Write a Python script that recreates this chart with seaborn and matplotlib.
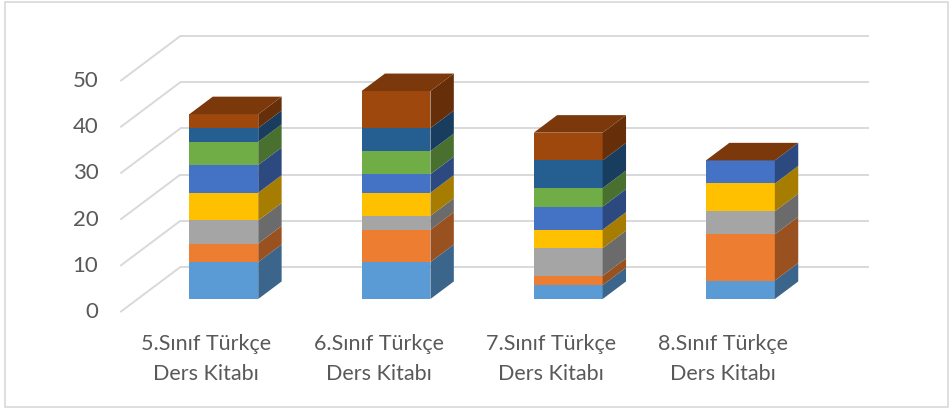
import numpy as np
import pandas as pd
import matplotlib
matplotlib.use("Agg")
import matplotlib.pyplot as plt
import seaborn as sns
from matplotlib.patches import Polygon, Rectangle

# ---------------- data ----------------
categories = ["5.Sınıf Türkçe\nDers Kitabı", "6.Sınıf Türkçe\nDers Kitabı",
              "7.Sınıf Türkçe\nDers Kitabı", "8.Sınıf Türkçe\nDers Kitabı"]
series_names = ["Seri 1", "Seri 2", "Seri 3", "Seri 4",
                "Seri 5", "Seri 6", "Seri 7", "Seri 8"]
s1 = [8, 8, 3, 4]
s2 = [4, 7, 2, 10]
s3 = [5, 3, 6, 5]
s4 = [6, 5, 4, 6]
s5 = [6, 4, 5, 5]
s6 = [5, 5, 4, 0]
s7 = [3, 5, 6, 0]
s8 = [3, 8, 6, 0]
series_values = [s1, s2, s3, s4, s5, s6, s7, s8]
y_ticks = [0, 10, 20, 30, 40, 50]
front_colors = ["#5B9BD5", "#ED7D31", "#A5A5A5", "#FFC000",
                "#4472C4", "#70AD47", "#255E91", "#9E480E"]

# ---------------- style ----------------
sns.set_theme(style="white")
plt.rcParams["font.family"] = ["Lato", "DejaVu Sans"]
TEXT = "#595959"
GRID = "#D9D9D9"

W, H = 951, 411
fig = plt.figure(figsize=(W / 100, H / 100), dpi=100)
ax = fig.add_axes([0, 0, 1, 1])

# oblique 3D projection parameters (depth d: 0 = front of floor, 1 = back wall)
DX, DY = 0.3484, 9.74
D_FRONT, D_BACK = 0.29, 0.68
BAR_W = 0.4


def proj(x, v, d):
    return x + DX * (d - D_FRONT), v + DY * (d - D_FRONT)


def shade(hexc, f):
    r, g, b = matplotlib.colors.to_rgb(hexc)
    return (r * f, g * f, b * f)


n = len(categories)
x_left, x_right = -0.5, n - 0.5

# walls: back-wall grid lines and side-wall diagonals
for v in y_ticks:
    p0 = proj(x_left, v, 1)
    p1 = proj(x_right, v, 1)
    ax.plot([p0[0], p1[0]], [p0[1], p1[1]], color=GRID, lw=1.4, zorder=1,
            solid_capstyle="butt")
    q0 = proj(x_left, v, 0)
    ax.plot([q0[0], p0[0]], [q0[1], p0[1]], color=GRID, lw=1.4, zorder=1,
            solid_capstyle="butt")
    ax.annotate(str(v), xy=q0, xytext=(-22 * 0.72, 0), textcoords="offset points",
                ha="right", va="center", fontsize=16, color=TEXT)

# front faces with seaborn (stacked)
bottoms = np.zeros(n)
for name, vals, col in zip(series_names, series_values, front_colors):
    df = pd.DataFrame({"cat": categories, "val": vals})
    sns.barplot(data=df, x="cat", y="val", order=categories, color=col,
                width=BAR_W, bottom=bottoms.copy(), linewidth=0, edgecolor="none",
                saturation=1, ax=ax, zorder=3)
    bottoms = bottoms + np.array(vals, dtype=float)

# side faces
bottoms = np.zeros(n)
for vals, col in zip(series_values, front_colors):
    for i, v in enumerate(vals):
        if v <= 0:
            continue
        b, t = bottoms[i], bottoms[i] + v
        xr = i + BAR_W / 2
        pts = [proj(xr, b, D_FRONT), proj(xr, b, D_BACK),
               proj(xr, t, D_BACK), proj(xr, t, D_FRONT)]
        ax.add_patch(Polygon(pts, closed=True, fc=shade(col, 0.65), ec="none", zorder=3))
    bottoms = bottoms + np.array(vals, dtype=float)

# top faces (colour of last series)
top_col = shade(front_colors[-1], 0.78)
for i in range(n):
    T = bottoms[i]
    xl, xr = i - BAR_W / 2, i + BAR_W / 2
    pts = [proj(xl, T, D_FRONT), proj(xr, T, D_FRONT),
           proj(xr, T, D_BACK), proj(xl, T, D_BACK)]
    ax.add_patch(Polygon(pts, closed=True, fc=top_col, ec="none", zorder=3))

# category labels
for i, cat in enumerate(categories):
    ax.annotate(cat, xy=proj(i, 0, 0), xytext=(0, -47 * 0.72), textcoords="offset points",
                ha="center", va="center", fontsize=15.5, color=TEXT, linespacing=1.6)

# axes limits to map to pixel layout
ax.set_xlim(-223.8 / 172.2, (W - 223.8) / 172.2)
ax.set_ylim(-112 / 4.62, (H - 112) / 4.62)
ax.axis("off")

# chart border
fig.patches.append(Rectangle((5 / W, 4 / H), 943 / W, 405 / H, transform=fig.transFigure,
                             fill=False, ec=GRID, lw=1.2))

fig.savefig("out.png", dpi=100)
